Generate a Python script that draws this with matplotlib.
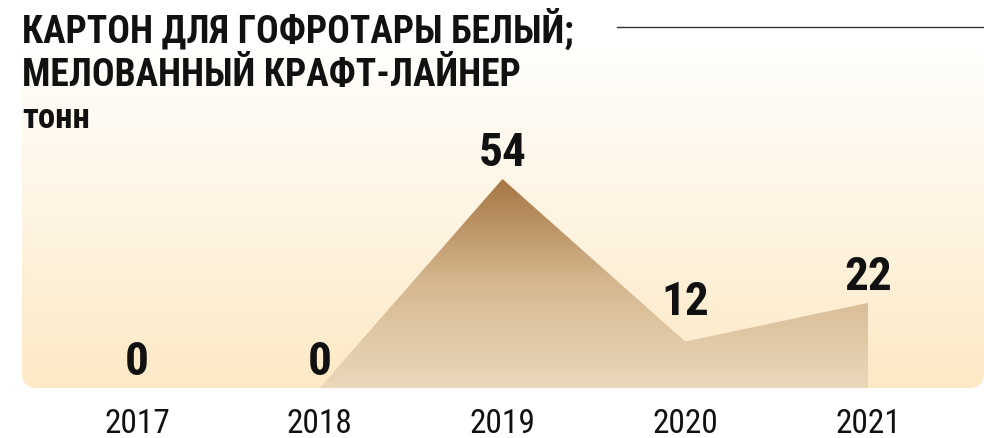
import numpy as np
import matplotlib
matplotlib.use("Agg")
import matplotlib.pyplot as plt
from matplotlib import font_manager
from matplotlib.patches import FancyBboxPatch
from matplotlib.lines import Line2D
from matplotlib.colors import LinearSegmentedColormap

# data
years = ["2017", "2018", "2019", "2020", "2021"]
values = [0, 0, 54, 12, 22]
title_lines = ["КАРТОН ДЛЯ ГОФРОТАРЫ БЕЛЫЙ;", "МЕЛОВАННЫЙ КРАФТ-ЛАЙНЕР"]
unit = "тонн"
label_lift = [14, 14, 14, 28, 14]   # px above point


# pick a condensed font if there is one
def pick_font(bold):
    prefs = ["Roboto Condensed", "Liberation Sans Narrow", "DejaVu Sans Condensed", "Open Sans Condensed"]
    found = {}
    for f in font_manager.fontManager.ttflist:
        w = f.weight if isinstance(f.weight, int) else font_manager.weight_dict.get(f.weight, 400)
        if f.style != "normal" or (w >= 600) != bold or (bold and w > 800) or (not bold and w < 350):
            continue
        name = f.name
        st = f.stretch if isinstance(f.stretch, int) else font_manager.stretch_dict.get(f.stretch, 500)
        if name == "DejaVu Sans" and st < 500:
            name = "DejaVu Sans Condensed"
        if "Condensed" in f.fname or "Narrow" in f.fname:
            if "Roboto" in f.fname:
                name = "Roboto Condensed"
            elif "Liberation" in f.fname:
                name = "Liberation Sans Narrow"
            elif "DejaVu" in f.fname:
                name = "DejaVu Sans Condensed"
        if name in prefs and name not in found:
            found[name] = f.fname
    for p in prefs:
        if p in found:
            return font_manager.FontProperties(fname=found[p])
    return font_manager.FontProperties(family="Roboto", weight="bold" if bold else "normal")

fb = pick_font(True)
fr = pick_font(False)

W, H = 984, 439
fig = plt.figure(figsize=(W / 100, H / 100), dpi=100)

# panel in pixel coords
px0, px1, py_top, py_bot = 22, 984, 49, 389
rect = [px0 / W, 1 - py_bot / H, (px1 - px0) / W, (py_bot - py_top) / H]

bg = fig.add_axes(rect)
bg.set_xlim(0, px1 - px0)
bg.set_ylim(0, py_bot - py_top)
bg.axis("off")
panel = FancyBboxPatch((0, 0), px1 - px0, py_bot - py_top,
                       boxstyle="round,pad=0,rounding_size=15", fc="none", ec="none")
bg.add_patch(panel)
bg_cmap = LinearSegmentedColormap.from_list("bg", ["#fde9c5", "#fef4e2", "#fffefc"])
g = bg.imshow(np.linspace(0, 1, 256).reshape(-1, 1), cmap=bg_cmap, origin="lower",
              extent=[0, px1 - px0, 0, py_bot - py_top], aspect="auto")
g.set_clip_path(panel)

# chart
ax = fig.add_axes(rect)
ax.patch.set_alpha(0)
x = np.arange(len(years))
ppx = 182.75          # px per year
ppy = 3.87            # px per tonne
x_first = 137
xlim = ((px0 - x_first) / ppx, (px1 - x_first) / ppx)
ylim = (0, (py_bot - py_top) / ppy)

poly = ax.fill_between(x, values, 0, color="none", lw=0)
area_cmap = LinearSegmentedColormap.from_list("area", ["#ead8bb", "#d6b88f", "#a67645"])
img = ax.imshow(np.linspace(0, 1, 256).reshape(-1, 1), cmap=area_cmap, origin="lower",
                extent=[x[0], x[-1], 0, max(values)], aspect="auto")
img.set_clip_path(poly.get_paths()[0], transform=ax.transData)
ax.set_xlim(*xlim)
ax.set_ylim(*ylim)
ax.axis("off")

for xi, v, lift in zip(x, values, label_lift):
    ax.annotate(str(v), (xi, v), xytext=(0, lift * 0.72), textcoords="offset points",
                ha="center", va="baseline", fontproperties=fb, fontsize=34, color="#111111")

for xi, yr in zip(x, years):
    ax.annotate(yr, (xi, 0), xytext=(0, -(433 - py_bot) * 0.72), textcoords="offset points",
                ha="center", va="baseline", fontproperties=fr, fontsize=24, color="#111111",
                annotation_clip=False)

# title
fig.text(px0 / W, 1 - 43 / H, title_lines[0], fontproperties=fb, fontsize=27,
         va="baseline", ha="left", color="#111111")
fig.text(px0 / W, 1 - 86 / H, title_lines[1], fontproperties=fb, fontsize=27,
         va="baseline", ha="left", color="#111111")
fig.text(px0 / W, 1 - 128 / H, unit, fontproperties=fb, fontsize=25,
         va="baseline", ha="left", color="#111111")
fig.add_artist(Line2D([617 / W, 1], [1 - 28 / H] * 2, transform=fig.transFigure,
                      color="#333333", lw=1.0))

fig.savefig("out.png", dpi=100)
